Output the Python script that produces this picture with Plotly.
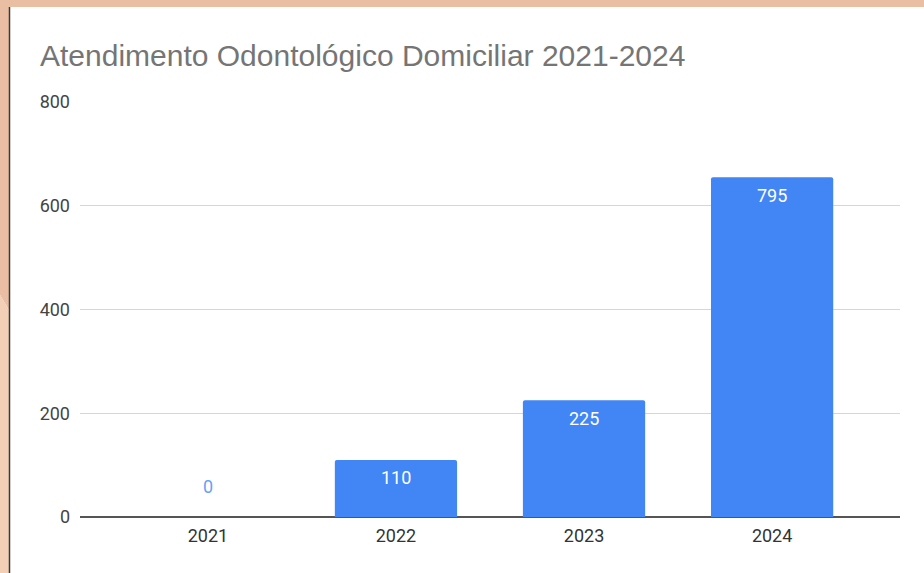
import plotly.graph_objects as go

# Data
years = ["2021", "2022", "2023", "2024"]
bar_heights = [0, 110, 225, 655]          # drawn bar heights
bar_labels = ["0", "110", "225", "795"]   # printed data labels
y_ticks = [0, 200, 400, 600, 800]

BLUE = "#4285f4"

fig = go.Figure()
fig.add_trace(go.Bar(
    x=years, y=bar_heights, marker=dict(color=BLUE, line=dict(width=0), cornerradius=2),
    width=0.65, hoverinfo="x+y", showlegend=False,
))

for i, (h, lab) in enumerate(zip(bar_heights, bar_labels)):
    if h > 0:
        fig.add_annotation(x=i, y=h, text=lab, showarrow=False, yshift=-18,
                           font=dict(family="Roboto", size=18, color="white"))
    else:
        fig.add_annotation(x=i, y=h, text=lab, showarrow=False, yshift=31,
                           font=dict(family="Roboto", size=18, color="#6a9ff6"))

W, H = 924, 573
L, R, T, B = 80, 24, 102, 56
pw, ph = W - L - R, H - T - B

def px(X):
    return (X - L) / pw

def py(Y):
    return (H - B - Y) / ph

shapes = [
    # top peach band
    dict(type="rect", xref="paper", yref="paper", x0=px(0), x1=px(W), y0=py(7), y1=py(0),
         fillcolor="#e9bea2", line=dict(width=0), layer="above"),
    # left peach band, upper darker part
    dict(type="path", xref="paper", yref="paper",
         path=f"M {px(0)},{py(0)} L {px(9)},{py(0)} L {px(9)},{py(310)} L {px(0)},{py(295)} Z",
         fillcolor="#e9bea2", line=dict(width=0), layer="above"),
    # left peach band, lower lighter part
    dict(type="path", xref="paper", yref="paper",
         path=f"M {px(0)},{py(295)} L {px(9)},{py(310)} L {px(9)},{py(H)} L {px(0)},{py(H)} Z",
         fillcolor="#f2cfb5", line=dict(width=0), layer="above"),
    # dark vertical edge
    dict(type="line", xref="paper", yref="paper", x0=px(9.5), x1=px(9.5), y0=py(7), y1=py(H),
         line=dict(color="#3a3a3a", width=1.5), layer="above"),
]

fig.update_layout(
    width=W, height=H,
    margin=dict(l=L, r=R, t=T, b=B),
    paper_bgcolor="white", plot_bgcolor="white",
    title=dict(text="Atendimento Odontológico Domiciliar 2021-2024",
               xref="container", yref="container", x=40 / W, xanchor="left",
               y=1 - 55 / H, yanchor="middle",
               font=dict(family="Liberation Sans, Arial", size=30, color="#757575")),
    xaxis=dict(type="category", range=[-0.68, 3.68], showgrid=False, showline=False,
               ticks="", ticklabelstandoff=6, fixedrange=True,
               tickfont=dict(family="Roboto", size=18, color="#333333")),
    yaxis=dict(range=[0, 800], tickvals=y_ticks, showgrid=True, gridcolor="#d6d6d6", gridwidth=1,
               zeroline=True, zerolinecolor="#555555", zerolinewidth=2,
               ticks="", ticklabelstandoff=9, fixedrange=True,
               tickfont=dict(family="Roboto", size=18, color="#444444")),
    shapes=shapes,
    bargap=0.35,
)

fig.write_html("out.html", config={"displayModeBar": False},
               post_script="document.body.style.margin='0';document.body.style.overflow='hidden';")
